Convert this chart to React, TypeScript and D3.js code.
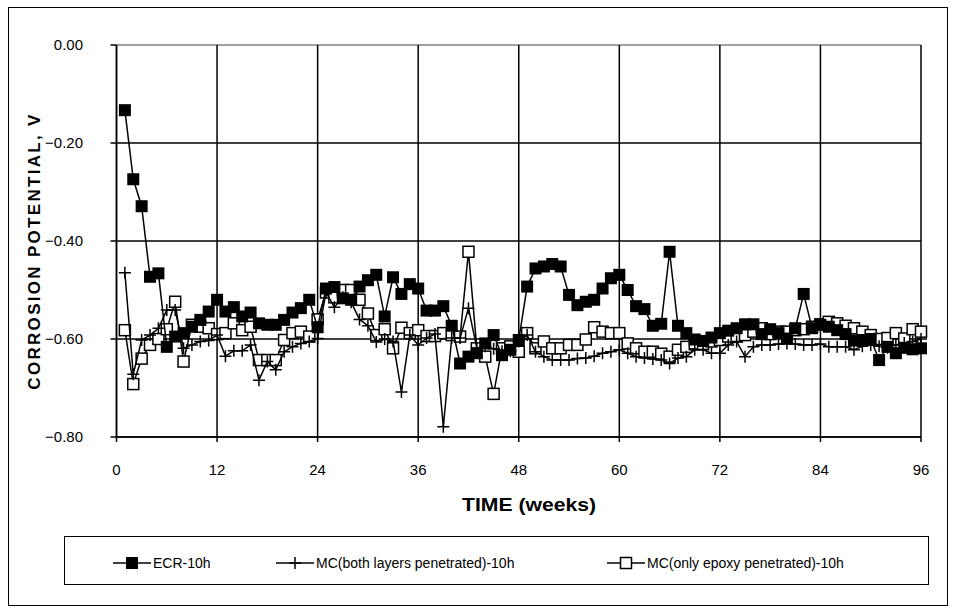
import React from "react";
import * as d3 from "d3";

const weeks: number[] = Array.from({ length: 96 }, (_, i) => i + 1);

const ecr: number[] = [
  -0.133, -0.274, -0.329, -0.473, -0.466, -0.616, -0.595, -0.588, -0.575, -0.561,
  -0.544, -0.520, -0.544, -0.535, -0.554, -0.546, -0.568, -0.571, -0.571, -0.561,
  -0.546, -0.537, -0.520, -0.576, -0.497, -0.494, -0.517, -0.520, -0.493, -0.480,
  -0.469, -0.554, -0.474, -0.508, -0.488, -0.497, -0.542, -0.542, -0.533, -0.573,
  -0.650, -0.636, -0.629, -0.609, -0.592, -0.633, -0.622, -0.602, -0.493, -0.456,
  -0.452, -0.447, -0.452, -0.510, -0.531, -0.524, -0.520, -0.497, -0.476, -0.469,
  -0.500, -0.533, -0.539, -0.573, -0.569, -0.422, -0.573, -0.588, -0.601, -0.604,
  -0.597, -0.588, -0.583, -0.578, -0.570, -0.570, -0.590, -0.580, -0.588, -0.599,
  -0.578, -0.508, -0.578, -0.571, -0.575, -0.582, -0.590, -0.603, -0.602, -0.600,
  -0.643, -0.616, -0.629, -0.618, -0.621, -0.619,
];

const mcBoth: number[] = [
  -0.465, -0.672, -0.602, -0.592, -0.578, -0.541, -0.541, -0.619, -0.612, -0.605,
  -0.603, -0.592, -0.635, -0.624, -0.624, -0.612, -0.684, -0.646, -0.663, -0.626,
  -0.616, -0.609, -0.605, -0.599, -0.505, -0.535, -0.515, -0.525, -0.560, -0.573,
  -0.606, -0.600, -0.605, -0.708, -0.592, -0.612, -0.598, -0.590, -0.779, -0.598,
  -0.598, -0.537, -0.619, -0.615, -0.620, -0.625, -0.625, -0.605, -0.592, -0.626,
  -0.636, -0.643, -0.643, -0.643, -0.640, -0.639, -0.635, -0.629, -0.626, -0.622,
  -0.629, -0.636, -0.639, -0.641, -0.643, -0.650, -0.639, -0.636, -0.622, -0.622,
  -0.629, -0.629, -0.612, -0.605, -0.636, -0.616, -0.612, -0.612, -0.610, -0.609,
  -0.610, -0.612, -0.612, -0.610, -0.616, -0.616, -0.616, -0.622, -0.615, -0.612,
  -0.615, -0.618, -0.612, -0.608, -0.605, -0.600,
];

const mcEpoxy: number[] = [
  -0.582, -0.692, -0.640, -0.612, -0.600, -0.580, -0.524, -0.646, -0.571, -0.575,
  -0.578, -0.590, -0.588, -0.568, -0.582, -0.575, -0.643, -0.643, -0.643, -0.602,
  -0.588, -0.585, -0.595, -0.560, -0.505, -0.515, -0.500, -0.500, -0.520, -0.548,
  -0.592, -0.580, -0.619, -0.577, -0.588, -0.582, -0.594, -0.594, -0.588, -0.592,
  -0.595, -0.422, -0.619, -0.636, -0.712, -0.619, -0.615, -0.626, -0.588, -0.619,
  -0.605, -0.619, -0.619, -0.612, -0.612, -0.601, -0.576, -0.585, -0.588, -0.588,
  -0.609, -0.619, -0.626, -0.626, -0.630, -0.636, -0.622, -0.616, -0.609, -0.610,
  -0.605, -0.602, -0.595, -0.595, -0.592, -0.585, -0.578, -0.590, -0.585, -0.585,
  -0.582, -0.580, -0.575, -0.570, -0.565, -0.568, -0.573, -0.578, -0.585, -0.592,
  -0.600, -0.598, -0.588, -0.599, -0.580, -0.585,
];

const xTicks: number[] = [0, 12, 24, 36, 48, 60, 72, 84, 96];
const yTicks: number[] = [0, -0.2, -0.4, -0.6, -0.8];
const seriesNames: string[] = [
  "ECR-10h",
  "MC(both layers penetrated)-10h",
  "MC(only epoxy penetrated)-10h",
];

const FONT = "'Liberation Sans', Arial, sans-serif";

const L = 116.5, R = 921, T = 45, B = 437;

function Marker({ kind, x, y }: { kind: number; x: number; y: number }) {
  if (kind === 0) {
    return <rect x={x - 6} y={y - 6} width={12} height={12} fill="#000" />;
  }
  if (kind === 1) {
    return (
      <path d={`M${x - 6},${y}H${x + 6}M${x},${y - 6}V${y + 6}`} stroke="#000" strokeWidth={1.5} />
    );
  }
  return (
    <rect x={x - 5.5} y={y - 5.5} width={11} height={11} fill="#fff" stroke="#000" strokeWidth={1.5} />
  );
}

export default function App() {
  const x = d3.scaleLinear().domain([0, 96]).range([L, R]);
  const y = d3.scaleLinear().domain([-0.8, 0]).range([B, T]);
  const line = d3
    .line<[number, number]>()
    .x((d) => x(d[0]))
    .y((d) => y(d[1]));

  const series = [ecr, mcBoth, mcEpoxy].map((vals) =>
    weeks.map((w, i) => [w, vals[i]] as [number, number])
  );
  const drawOrder = [2, 1, 0];

  const legendX = [113, 276, 607];
  const legY = 563;

  return (
    <svg width={956} height={613} style={{ position: "absolute", left: 0, top: 0, background: "#fff" }}>
      <rect x={0} y={0} width={956} height={613} fill="#fff" />
      <rect x={8.5} y={7.5} width={939} height={598} fill="none" stroke="#000" strokeWidth={1} />

      {/* gridlines */}
      {yTicks.map((t) => (
        <line key={"gy" + t} x1={L} x2={R} y1={y(t)} y2={y(t)} stroke={t === 0 ? "#808080" : "#000"} strokeWidth={1.5} />
      ))}
      {xTicks.map((t) => (
        <line key={"gx" + t} x1={x(t)} x2={x(t)} y1={T} y2={B} stroke="#000" strokeWidth={1.5} />
      ))}
      {/* axes */}
      <line x1={L} x2={L} y1={T} y2={B} stroke="#000" strokeWidth={1.5} />
      <line x1={L} x2={R} y1={B} y2={B} stroke="#000" strokeWidth={1.5} />
      {yTicks.map((t) => (
        <line key={"ty" + t} x1={L - 6} x2={L} y1={y(t)} y2={y(t)} stroke="#000" strokeWidth={1.5} />
      ))}
      {xTicks.map((t) => (
        <line key={"tx" + t} x1={x(t)} x2={x(t)} y1={B} y2={B + 5} stroke="#000" strokeWidth={1.5} />
      ))}

      {/* tick labels */}
      {yTicks.map((t) => (
        <text key={"ly" + t} x={83} y={y(t) + 5} textAnchor="end" fontFamily={FONT} fontSize={15} fill="#000">
          {d3.format(".2f")(t)}
        </text>
      ))}
      {xTicks.map((t) => (
        <text key={"lx" + t} x={x(t)} y={475} textAnchor="middle" fontFamily={FONT} fontSize={15} fill="#000">
          {t}
        </text>
      ))}

      {/* titles */}
      <text
        x={529}
        y={511}
        textAnchor="middle"
        fontFamily={FONT}
        fontSize={19}
        fontWeight="bold"
        textLength={134}
        lengthAdjust="spacingAndGlyphs"
      >
        TIME (weeks)
      </text>
      <text
        transform={`translate(40,251) rotate(-90)`}
        textAnchor="middle"
        fontFamily={FONT}
        fontSize={17}
        fontWeight="bold"
        letterSpacing={2.3}
      >
        CORROSION POTENTIAL, V
      </text>

      {/* series */}
      {drawOrder.map((si) => (
        <g key={"s" + si}>
          <path d={line(series[si]) || ""} fill="none" stroke="#000" strokeWidth={1.5} />
          {series[si].map((d, i) => (
            <Marker key={i} kind={si} x={x(d[0])} y={y(d[1])} />
          ))}
        </g>
      ))}

      {/* legend */}
      <rect x={64.5} y={536.5} width={864} height={48} fill="#fff" stroke="#000" strokeWidth={1} />
      {seriesNames.map((name, i) => (
        <g key={"lg" + i}>
          <line x1={legendX[i]} x2={legendX[i] + 38} y1={legY} y2={legY} stroke="#000" strokeWidth={1.5} />
          <Marker kind={i} x={legendX[i] + 19} y={legY} />
          <text x={legendX[i] + 40} y={legY + 5} fontFamily={FONT} fontSize={14} fill="#000">
            {name}
          </text>
        </g>
      ))}
    </svg>
  );
}
